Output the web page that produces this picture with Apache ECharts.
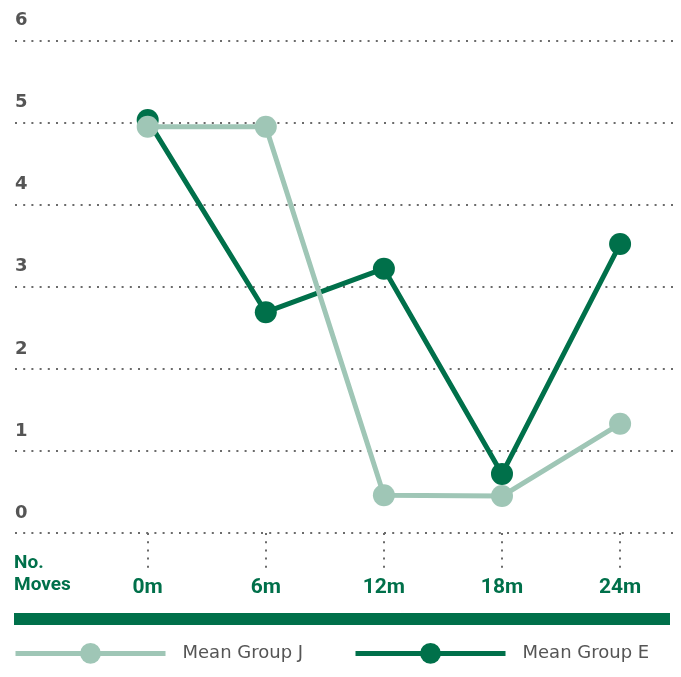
<!DOCTYPE html>
<html>
<head>
<meta charset="utf-8">
<script src="https://cdn.jsdelivr.net/npm/echarts@6/dist/echarts.min.js"></script>
<style>
html,body{margin:0;padding:0;background:#fff;}
#chart{width:681px;height:677px;}
</style>
</head>
<body>
<div id="chart"></div>
<script>
var categories = ['0m', '6m', '12m', '18m', '24m'];
var groupJ = [4.95, 4.95, 0.46, 0.45, 1.33];
var groupE = [5.03, 2.69, 3.22, 0.72, 3.52];
var yTicks = [0, 1, 2, 3, 4, 5, 6];
var seriesNames = ['Mean Group J', 'Mean Group E'];
var axisTitleLines = ['No.', 'Moves'];

var DARK = '#00704A';
var LIGHT = '#9FC6B6';
var GRAY = '#555555';
var DOT = '#6b6b6b';

function toPairs(arr) {
  return arr.map(function (v, i) { return [i, v]; });
}
var catIdx = categories.map(function (c, i) { return i; });

var legendText = {color: GRAY, fontFamily: 'DejaVu Sans', fontSize: 18, padding: [0, 0, 0, 12]};

var chart = echarts.init(document.getElementById('chart'), null, {renderer: 'canvas'});
chart.setOption({
  animation: false,
  backgroundColor: '#fff',
  grid: {left: 15, right: 8, top: 40.5, bottom: 144, containLabel: false},
  xAxis: {
    type: 'value',
    min: -1.1236,
    max: 4.448,
    axisLine: {show: false},
    splitLine: {show: false},
    axisTick: {
      show: true,
      customValues: catIdx,
      length: 38,
      lineStyle: {color: DOT, width: 2, type: [2, 6.2]}
    },
    axisLabel: {
      customValues: catIdx,
      formatter: function (v) { return categories[Math.round(v)]; },
      color: DARK,
      fontFamily: 'Roboto',
      fontWeight: 'bold',
      fontSize: 21,
      margin: 44
    }
  },
  yAxis: {
    type: 'value',
    min: 0,
    max: 6,
    interval: 1,
    axisLine: {show: false},
    axisTick: {show: false},
    splitLine: {show: true, lineStyle: {color: DOT, width: 2, type: [2, 6.2]}},
    axisLabel: {
      inside: true,
      margin: 0,
      formatter: function (v) { return yTicks.indexOf(v) >= 0 ? String(v) : ''; },
      verticalAlign: 'bottom',
      padding: [0, 0, 11, 0],
      color: GRAY,
      fontFamily: 'DejaVu Sans',
      fontWeight: 'bold',
      fontSize: 18
    }
  },
  legend: [
    {
      data: [seriesNames[0]],
      left: 13, top: 643, padding: 0,
      itemWidth: 150, itemHeight: 26,
      lineStyle: {width: 5},
      textStyle: legendText,
      selectedMode: false
    },
    {
      data: [seriesNames[1]],
      left: 353, top: 643, padding: 0,
      itemWidth: 150, itemHeight: 26,
      lineStyle: {width: 5},
      textStyle: legendText,
      selectedMode: false
    }
  ],
  graphic: [
    {
      type: 'text', left: 14, top: 552,
      style: {
        text: axisTitleLines.join('\n'),
        fill: DARK, fontFamily: 'Roboto', fontWeight: 'bold', fontSize: 19, lineHeight: 22
      }
    },
    {
      type: 'rect', left: 14, top: 613,
      shape: {width: 656, height: 12},
      style: {fill: DARK}
    }
  ],
  series: [
    {
      name: seriesNames[1],
      type: 'line',
      data: toPairs(groupE),
      symbol: 'circle',
      symbolSize: 22,
      itemStyle: {color: DARK},
      lineStyle: {color: DARK, width: 5},
      emphasis: {disabled: true},
      z: 2
    },
    {
      name: seriesNames[0],
      type: 'line',
      data: toPairs(groupJ),
      symbol: 'circle',
      symbolSize: 22,
      itemStyle: {color: LIGHT},
      lineStyle: {color: LIGHT, width: 5},
      emphasis: {disabled: true},
      z: 3
    }
  ]
});
</script>
</body>
</html>
